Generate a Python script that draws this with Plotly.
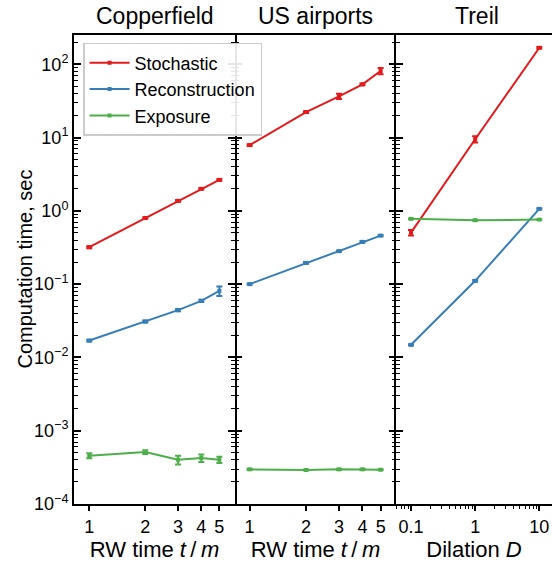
import plotly.graph_objects as go

# ---- data ----
rw_x = [1, 2, 3, 4, 5]
dil_x = [0.1, 1, 10]

cop_stoch = [0.32, 0.80, 1.37, 2.0, 2.65]
cop_stoch_err = [0.01, 0.02, 0.04, 0.05, 0.08]
cop_recon = [0.017, 0.0309, 0.0442, 0.0592, 0.081]
cop_recon_err = [0.0005, 0.001, 0.0015, 0.002, 0.012]
cop_expo = [4.56e-4, 5.12e-4, 4.02e-4, 4.24e-4, 4.02e-4]
cop_expo_err = [0.35e-4, 0.3e-4, 0.55e-4, 0.5e-4, 0.4e-4]

us_stoch = [7.9, 22.3, 36.6, 53.3, 81.0]
us_stoch_err = [0.2, 0.6, 3.0, 1.5, 8.0]
us_recon = [0.100, 0.195, 0.282, 0.378, 0.46]
us_recon_err = [0.002, 0.005, 0.006, 0.01, 0.01]
us_expo = [2.97e-4, 2.91e-4, 2.97e-4, 2.97e-4, 2.94e-4]
us_expo_err = [0.05e-4, 0.05e-4, 0.05e-4, 0.05e-4, 0.05e-4]

tr_stoch = [0.505, 9.5, 168.0]
tr_stoch_err = [0.045, 0.9, 4.0]
tr_recon = [0.01486, 0.111, 1.065]
tr_recon_err = [0.0003, 0.003, 0.02]
tr_expo = [0.778, 0.746, 0.76]
tr_expo_err = [0.01, 0.01, 0.01]

series_names = ["Stochastic", "Reconstruction", "Exposure"]
colors = ["#e41a1c", "#377eb8", "#4daf4a"]
panel_titles = ["Copperfield", "US airports", "Treil"]
x_titles = ["RW time <i>t</i>\u2009/\u2009<i>m</i>", "RW time <i>t</i>\u2009/\u2009<i>m</i>", "Dilation <i>D</i>"]
y_title = "Computation time, sec"
ytick_exps = [-4, -3, -2, -1, 0, 1, 2]
ytick_vals = [10.0 ** e for e in ytick_exps]
ytick_text = ["10<sup>%s</sup>" % (str(e).replace("-", "\u2212")) for e in ytick_exps]
xtick_text_dil = ["0.1", "1", "10"]

FONT = "Liberation Sans, Arial, Helvetica, sans-serif"

panels = [
    (rw_x, [(cop_stoch, cop_stoch_err), (cop_recon, cop_recon_err), (cop_expo, cop_expo_err)]),
    (rw_x, [(us_stoch, us_stoch_err), (us_recon, us_recon_err), (us_expo, us_expo_err)]),
    (dil_x, [(tr_stoch, tr_stoch_err), (tr_recon, tr_recon_err), (tr_expo, tr_expo_err)]),
]

fig = go.Figure()
for p, (xs, sers) in enumerate(panels):
    xa = "x" if p == 0 else f"x{p+1}"
    ya = "y" if p == 0 else f"y{p+1}"
    for s, (vals, errs) in enumerate(sers):
        fig.add_trace(go.Scatter(
            x=xs, y=vals, xaxis=xa, yaxis=ya,
            mode="lines+markers",
            name=series_names[s],
            legendgroup=series_names[s],
            showlegend=(p == 0),
            line=dict(color=colors[s], width=2),
            marker=dict(color=colors[s], size=4, symbol="square"),
            error_y=dict(type="data", array=errs, visible=True,
                         color=colors[s], thickness=2, width=3),
        ))

W_PLOT = 478.0
doms = [[0, 161 / W_PLOT], [161 / W_PLOT, 322 / W_PLOT], [322 / W_PLOT, 1.0]]
xranges = [[-0.082, 0.783], [-0.078, 0.781], [-1.234, 1.198]]
minor_vals = [m * 10.0 ** e for e in range(-4, 3) for m in range(2, 10)]
x3_minor_vals = [m * 10.0 ** e for e in range(-2, 2) for m in range(2, 10) if 0.055 < m * 10.0 ** e < 15]

layout = dict(
    width=552, height=564,
    margin=dict(l=74, r=0, t=35, b=60, pad=0),
    paper_bgcolor="white", plot_bgcolor="white",
    font=dict(family=FONT, size=18, color="black"),
    showlegend=True,
    legend=dict(
        x=0.019, y=0.983, xanchor="left", yanchor="top",
        bgcolor="rgba(255,255,255,0.9)", bordercolor="#cccccc", borderwidth=1.5,
        font=dict(size=18, family=FONT), tracegroupgap=0,
        itemwidth=40,
    ),
)

for p in range(3):
    xkey = "xaxis" if p == 0 else f"xaxis{p+1}"
    ykey = "yaxis" if p == 0 else f"yaxis{p+1}"
    yname = "y" if p == 0 else f"y{p+1}"
    xname = "x" if p == 0 else f"x{p+1}"
    if p < 2:
        xtick = dict(tickmode="array", tickvals=rw_x, ticktext=[str(v) for v in rw_x])
        xminor = None
    else:
        xtick = dict(tickmode="array", tickvals=dil_x, ticktext=xtick_text_dil)
        xminor = dict(ticks="outside", ticklen=3, tickwidth=1, tickcolor="black", showgrid=False,
                      tickmode="array", tickvals=x3_minor_vals)
    xa = dict(
        type="log", domain=doms[p], range=xranges[p], anchor=yname,
        showline=True, linecolor="black", linewidth=2, mirror=True,
        ticks="outside", ticklen=5, tickwidth=1.5, tickcolor="black",
        showgrid=False, zeroline=False,
        title=dict(text=x_titles[p], font=dict(size=22, family=FONT), standoff=3),
        tickfont=dict(size=18, family=FONT),
        **xtick,
    )
    if xminor:
        xa["minor"] = xminor
    layout[xkey] = xa
    ya = dict(
        type="log", range=[-4, 2.4], domain=[0, 1], anchor=xname,
        showline=(p != 1), linecolor="black", linewidth=2,
        mirror=("allticks" if p < 2 else False),
        ticks="inside", ticklen=7, tickwidth=1.5, tickcolor="black",
        tickmode="array", tickvals=ytick_vals, ticktext=ytick_text,
        showgrid=False, zeroline=False,
        showticklabels=(p == 0),
        tickfont=dict(size=18, family=FONT),
        minor=dict(ticks="inside", ticklen=4, tickwidth=1, tickcolor="black", showgrid=False,
                   tickmode="array", tickvals=minor_vals),
    )
    layout[ykey] = ya

annotations = []
for p in range(3):
    xref = "x domain" if p == 0 else f"x{p+1} domain"
    cx = 0.5 if p < 2 else (80.5 / 156.0)
    annotations.append(dict(
        text=panel_titles[p], xref=xref, yref="paper", x=cx, y=1.0,
        xanchor="center", yanchor="bottom", yshift=4, showarrow=False,
        font=dict(size=23, family=FONT),
    ))
annotations.append(dict(
    text=y_title, xref="paper", yref="paper", x=(24 - 74) / W_PLOT, y=0.5,
    xanchor="center", yanchor="middle", textangle=-90, showarrow=False,
    font=dict(size=20, family=FONT),
))
layout["annotations"] = annotations

fig.update_layout(**layout)
fig.write_html("out.html")
